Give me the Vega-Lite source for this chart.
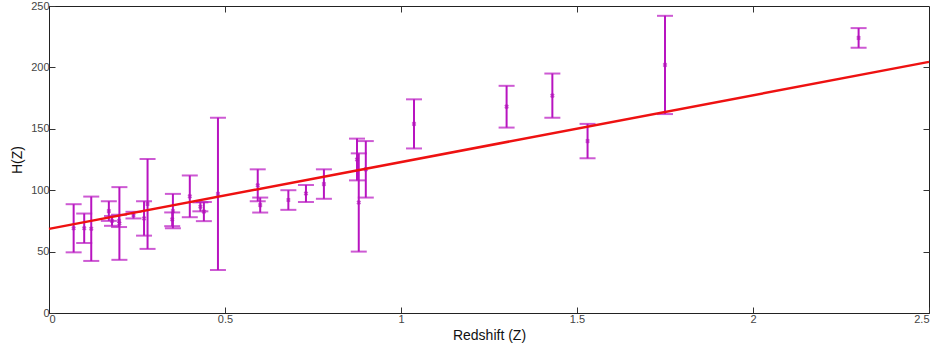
{
  "$schema": "https://vega.github.io/schema/vega-lite/v6.json",
  "autosize": "none",
  "width": 880,
  "height": 307,
  "padding": {"left": 49, "top": 6, "right": 12, "bottom": 43},
  "background": "white",
  "config": {
    "view": {"stroke": "#222", "strokeWidth": 1},
    "axis": {"labelFont": "Liberation Sans", "titleFont": "Liberation Sans", "labelFontSize": 11, "labelColor": "#444", "titleFontSize": 14, "titleFontWeight": "normal", "titleColor": "#111", "grid": false, "domainColor": "#222", "tickColor": "#333", "tickSize": -6, "labelPadding": 6}
  },
  "datasets": {
    "ohd": [
      {"z": 0.07, "H": 69, "lo": 49.4, "hi": 88.6},
      {"z": 0.1, "H": 69, "lo": 57, "hi": 81},
      {"z": 0.12, "H": 68.6, "lo": 42.4, "hi": 94.8},
      {"z": 0.17, "H": 83, "lo": 75, "hi": 91},
      {"z": 0.179, "H": 75, "lo": 71, "hi": 79},
      {"z": 0.199, "H": 75, "lo": 70, "hi": 80},
      {"z": 0.2, "H": 72.9, "lo": 43.3, "hi": 102.5},
      {"z": 0.24, "H": 79.7, "lo": 77, "hi": 82.4},
      {"z": 0.27, "H": 77, "lo": 63, "hi": 91},
      {"z": 0.28, "H": 88.8, "lo": 52.2, "hi": 125.4},
      {"z": 0.35, "H": 76.3, "lo": 70.7, "hi": 81.9},
      {"z": 0.352, "H": 83, "lo": 69, "hi": 97},
      {"z": 0.4, "H": 95, "lo": 78, "hi": 112},
      {"z": 0.43, "H": 86.5, "lo": 82.8, "hi": 90.1},
      {"z": 0.44, "H": 82.6, "lo": 74.8, "hi": 90.4},
      {"z": 0.48, "H": 97, "lo": 35, "hi": 159},
      {"z": 0.593, "H": 104, "lo": 91, "hi": 117},
      {"z": 0.6, "H": 87.9, "lo": 81.8, "hi": 94},
      {"z": 0.68, "H": 92, "lo": 84, "hi": 100},
      {"z": 0.73, "H": 97.3, "lo": 90.3, "hi": 104.3},
      {"z": 0.781, "H": 105, "lo": 93, "hi": 117},
      {"z": 0.875, "H": 125, "lo": 108, "hi": 142},
      {"z": 0.88, "H": 90, "lo": 50, "hi": 130},
      {"z": 0.9, "H": 117, "lo": 94, "hi": 140},
      {"z": 1.037, "H": 154, "lo": 134, "hi": 174},
      {"z": 1.3, "H": 168, "lo": 151, "hi": 185},
      {"z": 1.43, "H": 177, "lo": 159, "hi": 195},
      {"z": 1.53, "H": 140, "lo": 126, "hi": 154},
      {"z": 1.75, "H": 202, "lo": 162, "hi": 242},
      {"z": 2.3, "H": 224, "lo": 216, "hi": 232}
    ],
    "fit": [
      {"z": 0, "H": 68.5},
      {"z": 2.5, "H": 204.5}
    ]
  },
  "layer": [
    {
      "data": {"name": "ohd"},
      "mark": {"type": "rule", "color": "#b814c0", "strokeWidth": 2},
      "encoding": {
        "x": {"field": "z", "type": "quantitative", "scale": {"domain": [0, 2.5], "nice": false}, "axis": {"orient": "bottom", "title": "Redshift (Z)", "values": [0, 0.5, 1, 1.5, 2, 2.5], "format": "~g", "titlePadding": 4}},
        "y": {"field": "lo", "type": "quantitative", "scale": {"domain": [0, 250], "nice": false}, "axis": {"orient": "left", "title": "H(Z)", "values": [0, 50, 100, 150, 200, 250], "titlePadding": 6}},
        "y2": {"field": "hi"}
      }
    },
    {
      "data": {"name": "ohd"},
      "mark": {"type": "tick", "orient": "horizontal", "color": "#b814c0", "size": 16, "thickness": 2},
      "encoding": {
        "x": {"field": "z", "type": "quantitative", "axis": {"orient": "top", "title": null, "values": [0.5, 1, 1.5, 2], "labels": false, "domain": false, "tickSize": -6, "tickColor": "#333"}},
        "y": {"field": "lo", "type": "quantitative", "axis": {"orient": "right", "title": null, "values": [50, 100, 150, 200], "labels": false, "domain": false, "tickSize": -6, "tickColor": "#333"}}
      }
    },
    {
      "data": {"name": "ohd"},
      "mark": {"type": "tick", "orient": "horizontal", "color": "#b814c0", "size": 16, "thickness": 2},
      "encoding": {
        "x": {"field": "z", "type": "quantitative", "axis": null},
        "y": {"field": "hi", "type": "quantitative", "axis": null}
      }
    },
    {
      "data": {"name": "ohd"},
      "mark": {"type": "point", "shape": "cross", "angle": 45, "color": "#b010b8", "filled": true, "size": 22},
      "encoding": {
        "x": {"field": "z", "type": "quantitative", "axis": null},
        "y": {"field": "H", "type": "quantitative", "axis": null}
      }
    },
    {
      "data": {"name": "fit"},
      "mark": {"type": "line", "color": "#ee1111", "strokeWidth": 2.5},
      "encoding": {
        "x": {"field": "z", "type": "quantitative", "axis": null},
        "y": {"field": "H", "type": "quantitative", "axis": null}
      }
    }
  ],
  "resolve": {"axis": {"x": "independent", "y": "independent"}}
}
